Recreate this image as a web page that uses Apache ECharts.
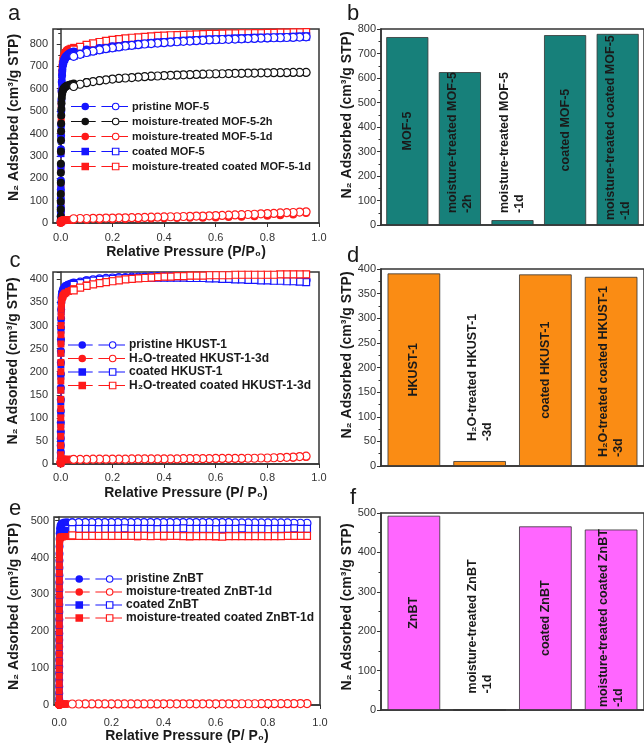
<!DOCTYPE html>
<html><head><meta charset="utf-8">
<script src="https://cdn.jsdelivr.net/npm/echarts@6/dist/echarts.min.js"></script>
<style>html,body{margin:0;padding:0;background:#fff}#c{width:644px;height:744px}</style>
</head><body><div id="c"></div>
<script>
// ---------- shared ----------
const desP = [0.95,0.925,0.9,0.875,0.85,0.825,0.8,0.775,0.75,0.725,0.7,0.675,0.65,0.625,0.6,0.575,0.55,0.525,0.5,0.475,0.45,0.425,0.4,0.375,0.35,0.325,0.3,0.275,0.25,0.225,0.2,0.175,0.15,0.125,0.1,0.075,0.05];
const xTicks = [0,0.2,0.4,0.6,0.8,1.0];

// ---------- panel a (MOF-5) ----------
const aAdsP = [0.00002,0.00005,0.0001,0.00015,0.0002,0.0003,0.0004,0.0005,0.0007,0.001,0.0013,0.0016,0.002,0.0025,0.003,0.004,0.005,0.006,0.008,0.01,0.012,0.015,0.018,0.022,0.026,0.03,0.035,0.04,0.05,0.1,0.15,0.2,0.25,0.3,0.35,0.4,0.45,0.5,0.55,0.6,0.65,0.7,0.75,0.8,0.85,0.9,0.95];
const aPristineAds = [5,15,30,50,70,110,150,190,260,330,390,440,500,550,590,630,660,680,705,718,726,734,740,746,750,754,758,762,767,775,782,790,796,801,805,809,812,815,817,819,821,823,824,826,827,829,831];
const aPristineDes = [832,831,830,829,828,828,827,826,825,824,823,822,821,820,819,818,816,815,813,812,810,808,806,804,802,800,797,794,791,787,783,779,774,768,762,754,745];
const a2hAds = [10,30,60,95,130,180,225,265,320,370,410,445,480,510,535,560,575,583,592,598,602,606,609,612,614,616,618,620,623,630,637,643,648,652,655,658,660,662,664,665,667,668,669,670,671,672,673];
const a2hDes = [673,673,673,672,672,672,671,671,670,670,669,669,668,667,667,666,665,664,663,662,661,660,659,657,656,654,652,650,648,646,643,640,636,632,627,620,610];
const a1dAds = [1,1.5,2,3,3.5,4,5,5.5,6,7,7.5,8,9,9.5,10,10.5,11,11,11.5,12,12,12.5,12.5,13,13,13,13.5,14,14,15,16,17,18,19,20,21,22,23,24,25,27,28,30,32,35,38,45];
const a1dDes = [50,49,47,46,45,43,42,41,39,38,37,36,35,34,33,32,31,31,30,29,28,28,27,26,26,25,24,24,23,23,22,22,21,21,20,20,19];
const aCoatedAds = [4,12,25,42,60,95,135,175,240,310,370,425,485,535,578,620,652,674,700,714,723,731,738,744,748,752,756,760,765,772,781,789,795,800,804,808,811,814,816,818,820,822,824,825,827,828,830];
const aCoatedDes = [834,833,832,831,830,829,828,828,827,826,825,824,823,822,821,820,818,817,815,814,812,810,808,806,804,801,798,795,792,788,784,780,775,769,763,756,748];
const aCoated1dAds = [3,10,22,38,55,90,130,170,240,320,400,460,530,590,630,670,695,710,728,740,748,756,762,768,772,775,778,781,785,795,806,814,820,825,829,833,836,838,840,842,843,845,846,847,848,849,851];
const aCoated1dDes = [853,852,852,851,851,850,850,849,849,848,848,847,847,846,845,845,844,843,842,841,840,839,837,836,834,832,830,828,825,822,818,814,809,803,796,787,775];

// ---------- panel c (HKUST-1) ----------
const cAdsP = [0.00002,0.00004,0.00006,0.00008,0.0001,0.00012,0.00015,0.0002,0.00025,0.0003,0.0004,0.0005,0.0006,0.0008,0.001,0.0013,0.0016,0.002,0.003,0.004,0.006,0.008,0.01,0.015,0.02,0.03,0.04,0.05,0.1,0.15,0.2,0.3,0.4,0.5,0.6,0.7,0.8,0.9,0.95];
const cPristineAds = [3,12,25,40,55,70,90,115,140,165,195,220,245,270,295,315,335,350,360,366,372,376,379,383,386,389,391,393,398,401,403,405,406,406,405,404,402,400,399];
const cPristineDes = [398,399,399,400,400,401,401,402,402,403,403,404,404,404,405,405,405,405,406,406,406,406,406,406,406,405,405,405,404,404,403,402,401,399,397,394,390];
const cH2OAds = [1,1.5,2,2.5,3,3.5,4,4.5,5,5.5,6,6.5,7,7.5,8,8,8.5,8.5,9,9,9,9.5,9.5,9.5,10,10,10,10,10.5,10.5,11,11,11,11.5,11.5,12,12.5,13.5,15];
const cH2ODes = [17,16,15,14.5,14,13.5,13,13,12.5,12.5,12,12,12,12,12,11.5,11.5,11.5,11.5,11.5,11,11,11,11,11,11,11,11,10.5,10.5,10.5,10.5,10.5,10.5,10,10,10];
const cCoatedAds = [2,10,22,36,50,65,85,110,135,160,190,215,240,265,290,310,330,346,357,364,370,374,378,382,385,388,390,392,397,400,402,404,405,405,404,402,400,397,395];
const cCoatedDes = [394,395,396,396,397,397,398,398,399,399,400,400,401,401,402,402,403,403,403,404,404,404,404,404,404,404,403,403,403,402,401,400,399,397,395,392,388];
const cCoatedH2OAds = [5,20,40,60,80,100,120,140,160,180,200,220,240,260,280,300,320,335,348,355,360,363,366,369,371,374,376,380,388,393,397,402,406,408,409,410,410,411,411];
const cCoatedH2ODes = [411,411,411,411,411,410,410,410,410,410,410,410,409,409,409,409,408,408,408,407,407,406,406,405,404,403,402,401,400,398,396,394,392,389,386,382,376];

// ---------- panel e (ZnBT) ----------
const eAdsP = [0.00002,0.00004,0.00006,0.00008,0.0001,0.00012,0.00014,0.00016,0.00018,0.0002,0.00023,0.00026,0.0003,0.00035,0.0004,0.00045,0.0005,0.0006,0.0007,0.0008,0.0009,0.001,0.0012,0.0015,0.002,0.003,0.005,0.008,0.012,0.02,0.03,0.05,0.1,0.15,0.2,0.3,0.4,0.5,0.6,0.7,0.8,0.9,0.95];
const ePristineAds = [15,32,50,68,86,104,122,140,158,176,194,212,232,252,272,292,312,332,352,372,392,410,430,450,466,478,486,490,493,495,496,496,495,495,495,494,494,494,494,494,493,493,493];
const ePristineDes = [493,493,493,494,494,494,494,494,494,494,494,494,495,495,495,495,495,495,495,495,495,495,495,495,495,495,495,495,495,495,495,495,495,495,495,495,494];
const e1dAds = [0.5,0.8,1,1.1,1.2,1.3,1.4,1.5,1.5,1.6,1.6,1.7,1.7,1.8,1.8,1.8,1.9,1.9,2,2,2,2,2.1,2.1,2.2,2.2,2.3,2.3,2.4,2.4,2.5,2.5,2.6,2.6,2.7,2.7,2.8,2.8,2.9,2.9,3,3,3.1];
const e1dDes = [4,3.8,3.7,3.6,3.6,3.5,3.5,3.5,3.4,3.4,3.4,3.3,3.3,3.3,3.3,3.2,3.2,3.2,3.2,3.1,3.1,3.1,3.1,3,3,3,3,3,2.9,2.9,2.9,2.9,2.8,2.8,2.8,2.7,2.7];
const eCoatedAds = [12,28,46,64,82,100,118,136,154,172,190,208,228,248,268,288,308,328,348,368,388,405,425,442,455,464,469,471,472,473,473,473,473,473,473,473,473,474,474,474,475,475,476];
const eCoatedDes = [478,478,479,478,478,478,477,478,478,478,479,478,478,478,477,478,478,478,478,479,478,478,478,477,478,478,478,478,479,478,478,478,477,478,478,478,477];
const eCoated1dAds = [18,38,58,78,98,118,138,158,178,198,218,238,258,278,298,318,338,358,378,398,415,428,438,445,450,453,455,456,456,457,457,457,457,457,457,456,456,456,456,457,457,457,458];
const eCoated1dDes = [459,459,459,459,458,458,458,458,458,458,458,458,458,457,458,458,458,458,458,458,459,459,459,459,458,459,459,459,459,459,459,459,459,459,459,459,460];

// ---------- bar panels ----------
const bCats = ['MOF-5','moisture-treated MOF-5\n-2h','moisture-treated MOF-5\n-1d','coated MOF-5','moisture-treated coated MOF-5\n-1d'];
const bVals = [767, 624, 20, 775, 780];
const dCats = ['HKUST-1','H₂O-treated HKUST-1\n-3d','coated HKUST-1','H₂O-treated coated HKUST-1\n-3d'];
const dVals = [391, 10, 389, 384];
const fCats = ['ZnBT','moisture-treated ZnBT\n-1d','coated ZnBT','moisture-treated coated ZnBT\n-1d'];
const fVals = [493, 0, 466, 458];

const yName = 'N₂ Adsorbed (cm³/g STP)';
const FONT = 'Liberation Sans, Arial, DejaVu Sans, sans-serif';
const BLUE = '#1515ff', RED = '#ff1a1a', BLACK = '#111111';

const iconCircle = 'path://M0,4.4L11,4.4L11,5.6L0,5.6Z M11,5A4,4 0 1,1 19,5A4,4 0 1,1 11,5Z M19,4.4L26,4.4L26,5.6L19,5.6Z M32,4.4L43,4.4L43,5.6L32,5.6Z M43,5A4,4 0 1,1 51,5A4,4 0 1,1 43,5Z M44.2,5A2.8,2.8 0 1,0 49.8,5A2.8,2.8 0 1,0 44.2,5Z M51,4.4L60,4.4L60,5.6L51,5.6Z';
const iconSquare = 'path://M0,4.4L11,4.4L11,5.6L0,5.6Z M11,1L19,1L19,9L11,9Z M19,4.4L26,4.4L26,5.6L19,5.6Z M32,4.4L43,4.4L43,5.6L32,5.6Z M43,1L51,1L51,9L43,9Z M44.2,2.2L44.2,7.8L49.8,7.8L49.8,2.2Z M51,4.4L60,4.4L60,5.6L51,5.6Z';

function iso(name, color, symbol, gi, adsP, adsV, dP, dV) {
  const data = [];
  adsP.forEach((p, i) => data.push([p, adsV[i]]));
  dP.forEach((p, i) => data.push({ value: [p, dV[i]], itemStyle: { color: '#fff', borderColor: color, borderWidth: 1.2 } }));
  return {
    type: 'line', name, xAxisIndex: gi, yAxisIndex: gi, data,
    symbol, symbolSize: symbol === 'rect' ? 7 : 8, showAllSymbol: true,
    itemStyle: { color }, lineStyle: { color, width: 1, type: [5, 3] },
    emphasis: { disabled: true }, animation: false
  };
}

function bar(gi, cats, vals, color, dists) {
  return {
    type: 'bar', xAxisIndex: gi, yAxisIndex: gi, barWidth: '80%',
    itemStyle: { color, borderColor: '#333', borderWidth: 0.8 },
    animation: false,
    data: vals.map((v, i) => {
      const multi = cats[i].indexOf('\n') >= 0;
      return {
        value: v,
        label: multi
          ? { show: true, position: 'insideBottom', distance: dists[i], rotate: 90, align: 'left', verticalAlign: 'middle', formatter: cats[i] }
          : { show: true, position: 'inside', rotate: 90, align: 'center', verticalAlign: 'middle', formatter: cats[i] }
      };
    }),
    label: { fontFamily: FONT, fontWeight: 'bold', fontSize: 12.5, color: '#1a1a1a', lineHeight: 15 }
  };
}

const grids = [
  { left: 53, top: 29, width: 266, height: 194 },   // a
  { left: 381, top: 29, width: 266, height: 196 },  // b
  { left: 53, top: 272, width: 266, height: 192 },  // c
  { left: 381, top: 269, width: 266, height: 197 }, // d
  { left: 54, top: 517, width: 266, height: 189 },  // e
  { left: 381, top: 513, width: 266, height: 197 }  // f
].map(g => Object.assign(g, { show: true, borderColor: '#333', borderWidth: 1.5, backgroundColor: 'transparent' }));

const axLine = { show: true, lineStyle: { color: '#333', width: 1.5 } };
const lblStyle = { fontFamily: FONT, fontSize: 11, color: '#333' };

function isoX(gi, min, xname, margin, gap) {
  return {
    gridIndex: gi, type: 'value', min, max: 1.0,
    axisLine: axLine, splitLine: { show: false },
    axisTick: { show: true, length: 4, customValues: xTicks, lineStyle: { color: '#333' } },
    axisLabel: Object.assign({ customValues: xTicks, margin, formatter: v => v.toFixed(1) }, lblStyle),
    name: xname, nameLocation: 'middle', nameGap: gap,
    nameTextStyle: { fontFamily: FONT, fontWeight: 'bold', fontSize: 14, color: '#1a1a1a' }
  };
}
function valY(gi, max, interval, gap, pad, hideMax) {
  return {
    gridIndex: gi, type: 'value', min: 0, max, interval,
    axisLine: axLine, splitLine: { show: false },
    axisTick: { show: true, length: 4, lineStyle: { color: '#333' } },
    minorTick: { show: true, splitNumber: 2, length: 2.5, lineStyle: { color: '#333' } },
    axisLabel: Object.assign({ margin: 5, showMaxLabel: !hideMax }, lblStyle),
    name: yName, nameLocation: 'middle', nameGap: gap,
    nameTextStyle: { fontFamily: FONT, fontWeight: 'bold', fontSize: 14, color: '#1a1a1a', padding: [0, 0, 0, pad] }
  };
}
function catX(gi, cats) {
  return {
    gridIndex: gi, type: 'category', data: cats,
    axisLine: axLine, axisTick: { show: false }, axisLabel: { show: false }, splitLine: { show: false }
  };
}

function legend(left, top, gap, fs, names) {
  return {
    orient: 'vertical', left, top, itemWidth: 57, itemHeight: 10, itemGap: gap, padding: 0,
    selectedMode: false,
    itemStyle: { borderWidth: 0 },
    textStyle: { fontFamily: FONT, fontWeight: 'bold', fontSize: fs, lineHeight: 10, color: '#1a1a1a', padding: [0, 0, 0, -1] },
    data: names.map(n => ({ name: n, icon: /coated/.test(n) ? iconSquare : iconCircle }))
  };
}

const letters = [['a', 14, 14], ['b', 353, 14], ['c', 15, 261], ['d', 353, 256], ['e', 15, 509], ['f', 353, 498]];

const option = {
  backgroundColor: '#fff',
  animation: false,
  textStyle: { fontFamily: FONT },
  grid: grids,
  xAxis: [
    isoX(0, -0.03, 'Relative Pressure (P/P₀)', 9, 22),
    catX(1, bCats),
    isoX(2, -0.03, 'Relative Pressure (P/ P₀)', 8, 22),
    catX(3, dCats),
    isoX(4, -0.02, 'Relative Pressure (P/ P₀)', 12, 24),
    catX(5, fCats)
  ],
  yAxis: [
    valY(0, 867, 100, 32, 17, true),
    valY(1, 800, 100, 21, 24, false),
    valY(2, 416, 50, 33, 14, true),
    valY(3, 400, 50, 22, 25, false),
    valY(4, 510, 100, 33, 9, true),
    valY(5, 500, 100, 21, 9, false)
  ],
  legend: [
    legend(71, 101, 4, 11, ['pristine MOF-5', 'moisture-treated MOF-5-2h', 'moisture-treated MOF-5-1d', 'coated MOF-5', 'moisture-treated coated MOF-5-1d']),
    legend(68, 339, 1.5, 12, ['pristine HKUST-1', 'H₂O-treated HKUST-1-3d', 'coated HKUST-1', 'H₂O-treated coated HKUST-1-3d']),
    legend(65, 573, 1, 12, ['pristine ZnBT', 'moisture-treated ZnBT-1d', 'coated ZnBT', 'moisture-treated coated ZnBT-1d'])
  ],
  graphic: letters.map(([t, x, y]) => ({
    type: 'text', x, y, silent: true,
    style: { text: t, fontFamily: FONT, fontSize: 22, fill: '#1a1a1a', align: 'center', verticalAlign: 'middle', textAlign: 'center', textVerticalAlign: 'middle' }
  })),
  series: [
    // a
    iso('moisture-treated coated MOF-5-1d', RED, 'rect', 0, aAdsP, aCoated1dAds, desP, aCoated1dDes),
    iso('coated MOF-5', BLUE, 'rect', 0, aAdsP, aCoatedAds, desP, aCoatedDes),
    iso('pristine MOF-5', BLUE, 'circle', 0, aAdsP, aPristineAds, desP, aPristineDes),
    iso('moisture-treated MOF-5-2h', BLACK, 'circle', 0, aAdsP, a2hAds, desP, a2hDes),
    iso('moisture-treated MOF-5-1d', RED, 'circle', 0, aAdsP, a1dAds, desP, a1dDes),
    // b
    bar(1, bCats, bVals, '#17807a', [0, 12, 12, 0, 5]),
    // c
    iso('pristine HKUST-1', BLUE, 'circle', 2, cAdsP, cPristineAds, desP, cPristineDes),
    iso('coated HKUST-1', BLUE, 'rect', 2, cAdsP, cCoatedAds, desP, cCoatedDes),
    iso('H₂O-treated HKUST-1-3d', RED, 'circle', 2, cAdsP, cH2OAds, desP, cH2ODes),
    iso('H₂O-treated coated HKUST-1-3d', RED, 'rect', 2, cAdsP, cCoatedH2OAds, desP, cCoatedH2ODes),
    // d
    bar(3, dCats, dVals, '#fa8c14', [0, 25, 0, 9]),
    // e
    iso('pristine ZnBT', BLUE, 'circle', 4, eAdsP, ePristineAds, desP, ePristineDes),
    iso('coated ZnBT', BLUE, 'rect', 4, eAdsP, eCoatedAds, desP, eCoatedDes),
    iso('moisture-treated ZnBT-1d', RED, 'circle', 4, eAdsP, e1dAds, desP, e1dDes),
    iso('moisture-treated coated ZnBT-1d', RED, 'rect', 4, eAdsP, eCoated1dAds, desP, eCoated1dDes),
    // f
    bar(5, fCats, fVals, '#ff66ff', [0, 17, 0, 3])
  ]
};

const chart = echarts.init(document.getElementById('c'), null, { renderer: 'canvas' });
chart.setOption(option);
</script></body></html>
